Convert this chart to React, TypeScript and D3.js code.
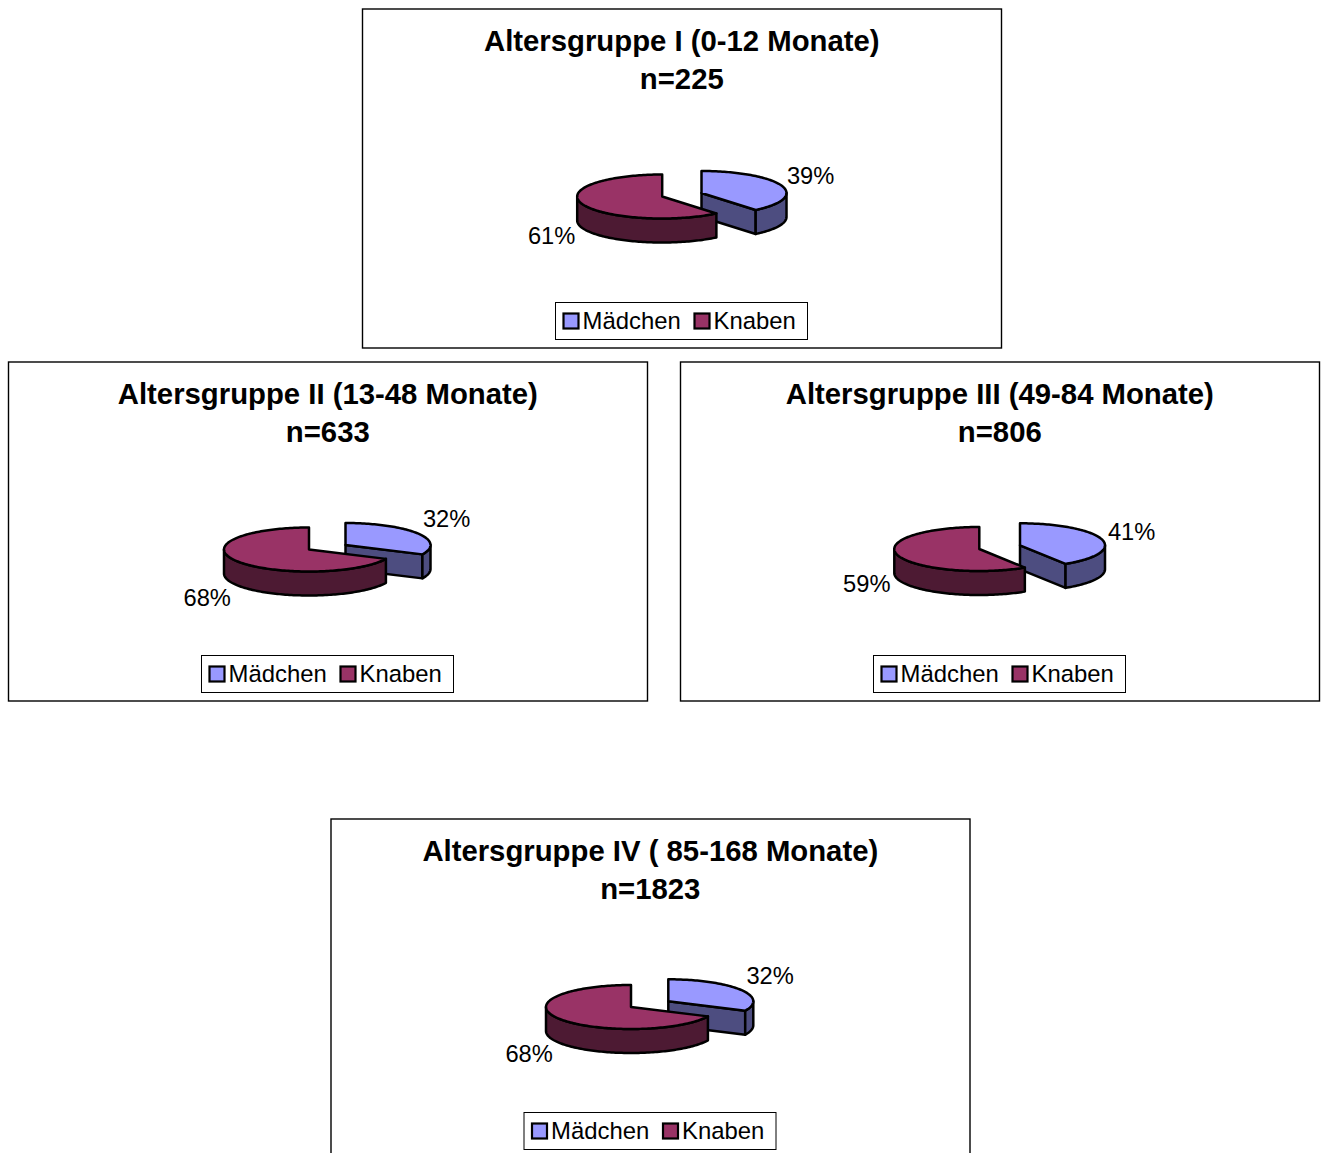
import React from "react";
import * as d3 from "d3";

// Age groups and their shares of girls and boys, in percent
const groupTitles = [
  "Altersgruppe I (0-12 Monate)",
  "Altersgruppe II (13-48 Monate)",
  "Altersgruppe III (49-84 Monate)",
  "Altersgruppe IV ( 85-168 Monate)",
];
const sampleSizes = ["n=225", "n=633", "n=806", "n=1823"];
const maedchenShare = [39, 32, 41, 32];
const knabenShare = [61, 68, 59, 68];
const seriesNames = ["Mädchen", "Knaben"];

// Panel placement on the page
const panelX = [362.5, 8.5, 680.5, 331];
const panelY = [9, 362, 362, 819];
const PANEL_W = 639;
const PANEL_H = 339;

// Pie apex positions inside each panel: [Mädchen, Knaben]
const apexMaedchen = [[339, 184], [337, 183], [339.5, 183.3], [337.3, 182.3]];
const apexKnaben = [[299.7, 187.5], [300.5, 187.5], [298.8, 187], [300, 188]];
// Percent label anchors inside each panel: [Mädchen, Knaben]
const labelMaedchen = [[424.4, 175], [414.4, 165], [427.4, 178], [415.4, 165]];
const labelKnaben = [[165.4, 235], [175, 244], [162.6, 230], [174.4, 243]];

const TOP_FILL = ["#9999ff", "#993366"];
const SIDE_FILL = ["#4d4d80", "#4d1a33"];
const RX = 85;
const RY = 22;
const DEPTH = 24;
const FONT = "'Liberation Sans', Arial, sans-serif";

const rimLine = d3.line<[number, number]>().curve(d3.curveLinear);

// Flattened-ellipse projection; angle runs clockwise from twelve o'clock
const rimPoint = (cx: number, cy: number, a: number): [number, number] => [
  cx + RX * Math.sin(a),
  cy - RY * Math.cos(a),
];

const rimArc = (cx: number, cy: number, a0: number, a1: number): [number, number][] => {
  const steps = Math.max(2, Math.ceil(Math.abs(a1 - a0) * 40));
  const t = d3.scaleLinear().domain([0, steps]).range([a0, a1]);
  return d3.range(steps + 1).map((i) => rimPoint(cx, cy, t(i)));
};

const outerWall = (cx: number, cy: number, a0: number, a1: number) => {
  const top = rimArc(cx, cy, a0, a1);
  const bottom = top.map(([x, y]) => [x, y + DEPTH] as [number, number]).reverse();
  return rimLine([...top, ...bottom]) + "Z";
};

function Slice({ cx, cy, start, end, index }: { cx: number; cy: number; start: number; end: number; index: number }) {
  const stroke = { stroke: "#000", strokeWidth: 2.5, strokeLinejoin: "round" as const };
  const side = SIDE_FILL[index];
  const wallFrom = Math.max(start, Math.PI / 2);
  const wallTo = Math.min(end, (3 * Math.PI) / 2);
  const edge = rimPoint(cx, cy, end);
  const top = rimLine([[cx, cy], ...rimArc(cx, cy, start, end)]) + "Z";
  const cut =
    end < Math.PI
      ? rimLine([[cx, cy], edge, [edge[0], edge[1] + DEPTH], [cx, cy + DEPTH]]) + "Z"
      : null;
  return (
    <g>
      {cut && <path d={cut} fill={side} {...stroke} />}
      {wallTo > wallFrom && <path d={outerWall(cx, cy, wallFrom, wallTo)} fill={side} {...stroke} />}
      <path d={top} fill={TOP_FILL[index]} {...stroke} />
    </g>
  );
}

function Panel({ i }: { i: number }) {
  const arcs = d3
    .pie<number>()
    .sort(null)
    .value((d) => d)([maedchenShare[i], knabenShare[i]]);
  return (
    <g transform={`translate(${panelX[i]},${panelY[i]})`} fontFamily={FONT} fill="#000">
      <rect width={PANEL_W} height={PANEL_H} fill="#fff" stroke="#000" strokeWidth={1.4} />
      <text x={319.3} y={42} textAnchor="middle" fontSize={29.3} fontWeight="bold">{groupTitles[i]}</text>
      <text x={319.3} y={80} textAnchor="middle" fontSize={29.3} fontWeight="bold">{sampleSizes[i]}</text>

      <Slice cx={apexMaedchen[i][0]} cy={apexMaedchen[i][1]} start={arcs[0].startAngle} end={arcs[0].endAngle} index={0} />
      <Slice cx={apexKnaben[i][0]} cy={apexKnaben[i][1]} start={arcs[1].startAngle} end={arcs[1].endAngle} index={1} />

      <text x={labelMaedchen[i][0]} y={labelMaedchen[i][1]} fontSize={23.7}>{maedchenShare[i]}%</text>
      <text x={labelKnaben[i][0]} y={labelKnaben[i][1]} fontSize={23.7}>{knabenShare[i]}%</text>

      <g transform="translate(193,293.5)">
        <rect width={252} height={37} fill="#fff" stroke="#000" strokeWidth={1} />
        <rect x={8} y={11} width={15} height={15} fill={TOP_FILL[0]} stroke="#000" strokeWidth={2.2} />
        <text x={27} y={26} fontSize={23.9}>{seriesNames[0]}</text>
        <rect x={139} y={11} width={15} height={15} fill={TOP_FILL[1]} stroke="#000" strokeWidth={2.2} />
        <text x={158} y={26} fontSize={23.9}>{seriesNames[1]}</text>
      </g>
    </g>
  );
}

export default function App() {
  return (
    <svg
      width={1325}
      height={1153}
      viewBox="0 0 1325 1153"
      style={{ position: "absolute", left: 0, top: 0, display: "block", background: "#fff" }}
    >
      {groupTitles.map((_, i) => (
        <Panel key={i} i={i} />
      ))}
    </svg>
  );
}
